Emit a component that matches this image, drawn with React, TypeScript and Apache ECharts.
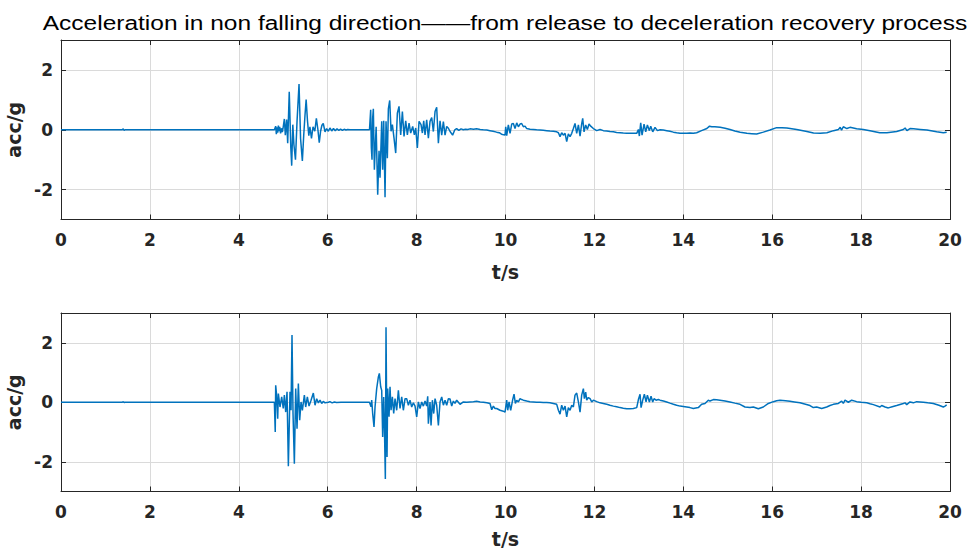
import React, { useEffect, useRef } from "react";
import * as echarts from "echarts";

type Pt = [number, number];

const titleText =
  "Acceleration in non falling direction——from release to deceleration recovery process";
const timeName = "t/s";
const accName = "acc/g";
const timeTicks = [0, 2, 4, 6, 8, 10, 12, 14, 16, 18, 20];
const accTicks = [-2, 0, 2];

// Upper channel: quiet hold, release impact, second impact, recovery
const upperQuiet: Pt[] = [[0, 0], [1.38, 0], [1.4, 0.03], [1.42, -0.02], [1.44, 0], [4.8, 0]];
const upperImpact1: Pt[] = [
  [4.815, 0], [4.83, 0.12], [4.845, -0.15], [4.86, 0.08], [4.875, -0.1], [4.89, 0.14], [4.905, -0.05],
  [4.92, 0.1], [4.94, -0.12], [4.96, 0.05], [4.98, -0.08], [5.0, 0.1], [5.025, 0.36], [5.047, -0.18],
  [5.077, 0.34], [5.1, -0.45], [5.135, 1.27], [5.17, -0.6], [5.19, -1.2], [5.215, 0.17], [5.24, -0.5],
  [5.275, -1.0], [5.31, 0.28], [5.355, 1.53], [5.39, -0.3], [5.43, -1.04], [5.46, -0.2], [5.49, 0.5],
  [5.515, 1.01], [5.545, 0.3], [5.575, -0.2], [5.6, 0.1], [5.635, -0.29], [5.67, 0.1], [5.71, -0.05],
  [5.745, 0.38], [5.78, 0.0], [5.81, -0.43], [5.84, -0.05], [5.87, 0.15], [5.9, 0.21], [5.94, -0.07],
  [5.975, 0.04], [6.015, -0.05], [6.05, 0.06], [6.09, -0.04], [6.13, 0.04], [6.17, -0.03], [6.21, 0.03],
  [6.25, -0.02], [6.29, 0.02], [6.33, -0.02], [6.37, 0.015], [6.41, -0.01], [6.45, 0.01], [6.5, 0], [6.94, 0],
];
const upperImpact2: Pt[] = [
  [6.952, 0], [6.967, 0.67], [6.982, -0.6], [6.997, -1.0], [7.012, 0.4], [7.027, 0.7], [7.05, -1.34],
  [7.072, -0.5], [7.09, 0.1], [7.125, -2.17], [7.155, -0.7], [7.177, -1.6], [7.215, 0.28], [7.237, -1.34],
  [7.26, 0.3], [7.29, -2.26], [7.312, 0.28], [7.342, -0.95], [7.365, 0.7], [7.395, 0.98], [7.425, -0.05],
  [7.455, 0.17], [7.492, -0.28], [7.53, -0.78], [7.567, 0.55], [7.605, 0.78], [7.642, -0.17], [7.68, 0.61],
  [7.717, -0.22], [7.755, 0.3], [7.792, -0.17], [7.83, 0.22], [7.867, -0.11], [7.912, 0.11], [7.95, -0.17],
  [7.98, 0.06], [8.017, -0.61], [8.055, 0.28], [8.1, 0.17], [8.13, -0.11], [8.16, 0.3], [8.19, -0.17],
  [8.227, 0.33], [8.265, -0.28], [8.302, 0.28], [8.34, 0.41], [8.377, -0.06], [8.415, 0.61], [8.452, 0.75],
  [8.49, -0.45], [8.527, 0.3], [8.565, -0.18], [8.602, 0.27], [8.64, -0.18], [8.677, 0.11], [8.715, 0.05],
  [8.75, -0.05], [8.81, -0.18], [8.86, 0.0], [8.9, 0.04], [8.95, -0.02], [9.0, 0.03],
];
const upperRecovery: Pt[] = [
  [9.05, 0.0], [9.1, 0.02], [9.15, 0.01], [9.2, 0.03], [9.28, 0.02], [9.35, 0.03], [9.43, 0.01], [9.5, 0.0],
  [9.58, -0.01], [9.65, -0.03], [9.72, -0.05], [9.8, -0.08], [9.86, -0.1], [9.91, -0.15], [9.99, -0.18],
  [10.005, 0.1], [10.027, -0.2], [10.064, 0.16], [10.102, -0.12], [10.14, 0.19], [10.177, 0.21], [10.214, 0.04],
  [10.252, 0.23], [10.29, 0.1], [10.327, 0.19], [10.364, 0.21], [10.402, 0.1], [10.44, 0.12], [10.477, 0.04],
  [10.552, 0.02], [10.627, 0.01], [10.7, 0.0], [10.777, -0.01], [10.85, -0.02], [10.927, -0.03], [11.0, -0.04],
  [11.077, -0.05], [11.152, -0.07], [11.19, -0.1], [11.227, -0.23], [11.264, -0.1], [11.302, -0.18],
  [11.34, -0.12], [11.377, -0.4], [11.414, -0.14], [11.452, -0.23], [11.49, -0.12], [11.527, 0.04],
  [11.564, 0.21], [11.602, -0.12], [11.64, 0.16], [11.677, -0.21], [11.714, 0.2], [11.737, 0.38],
  [11.767, -0.07], [11.804, 0.16], [11.842, 0.01], [11.879, 0.19], [11.917, 0.12], [11.977, 0.04],
  [12.052, -0.03], [12.127, 0.01], [12.202, -0.03], [12.277, -0.04], [12.35, -0.06], [12.427, -0.07],
  [12.5, -0.09], [12.577, -0.1], [12.65, -0.11], [12.727, -0.12], [12.8, -0.12], [12.877, -0.12],
  [12.952, -0.12], [12.99, 0.01], [13.012, -0.21], [13.042, 0.23], [13.072, -0.18], [13.117, 0.19],
  [13.154, -0.07], [13.192, 0.16], [13.237, -0.03], [13.267, 0.12], [13.312, -0.07], [13.364, 0.08],
  [13.417, -0.03], [13.477, 0.0], [13.55, -0.01], [13.627, -0.03], [13.7, -0.05], [13.777, -0.08],
  [13.85, -0.1], [13.927, -0.12], [14.0, -0.12], [14.077, -0.12], [14.15, -0.11], [14.227, -0.12],
  [14.3, -0.1], [14.41, -0.03], [14.53, 0.04], [14.59, 0.12], [14.64, 0.1], [14.71, 0.1], [14.83, 0.08],
  [14.94, 0.05], [15.05, 0.01], [15.16, -0.04], [15.28, -0.08], [15.43, -0.12], [15.54, -0.13],
  [15.65, -0.14], [15.8, -0.08], [15.95, -0.01], [16.1, 0.07], [16.22, 0.07], [16.33, 0.06], [16.55, 0.01],
  [16.78, -0.06], [16.93, -0.11], [17.08, -0.12], [17.23, -0.1], [17.38, -0.03], [17.49, 0.01], [17.53, 0.08],
  [17.56, -0.01], [17.6, 0.1], [17.68, 0.04], [17.75, 0.08], [17.9, 0.03], [18.05, 0.01], [18.2, -0.03],
  [18.42, -0.1], [18.58, -0.1], [18.8, -0.06], [18.95, 0.01], [18.99, 0.06], [19.03, -0.03], [19.1, 0.04],
  [19.18, 0.03], [19.33, 0.01], [19.48, -0.01], [19.7, -0.07], [19.85, -0.1], [19.925, -0.08],
];

// Lower channel
const lowerQuiet: Pt[] = [[0, 0], [1.38, 0], [1.4, 0.02], [1.42, -0.01], [1.44, 0], [4.8, 0]];
const lowerImpact1: Pt[] = [
  [4.815, 0], [4.82, -1.0], [4.83, 0.57], [4.85, 0.24], [4.875, -0.55], [4.89, 0.29], [4.927, -0.16],
  [4.965, 0.18], [5.0, -0.21], [5.025, 0.24], [5.055, -0.33], [5.085, 0.35], [5.115, -2.15], [5.152, 0.35],
  [5.175, -0.27], [5.197, 2.26], [5.22, -0.38], [5.25, -2.07], [5.28, 0.46], [5.31, -0.89], [5.34, 0.63],
  [5.37, -0.6], [5.4, 0.01], [5.43, -0.27], [5.475, 0.24], [5.505, -0.16], [5.542, 0.18], [5.58, -0.13],
  [5.625, 0.07], [5.677, 0.31], [5.715, -0.1], [5.752, 0.12], [5.79, -0.02], [5.827, 0.07], [5.865, -0.04],
  [5.9, 0.03], [5.94, -0.02], [6.015, 0.0], [6.05, 0.02], [6.1, -0.02], [6.15, 0.01], [6.2, -0.01], [6.3, 0],
  [6.94, 0],
];
const lowerImpact2: Pt[] = [
  [6.952, 0], [6.975, -0.15], [6.99, 0.07], [7.012, -0.38], [7.042, -0.83], [7.065, -0.16], [7.102, 0.46],
  [7.14, 0.85], [7.162, 0.97], [7.192, 0.52], [7.215, 0.4], [7.237, -1.17], [7.26, 0.18], [7.275, -0.72],
  [7.297, -2.58], [7.312, 2.52], [7.335, -1.84], [7.35, 0.46], [7.38, -0.49], [7.402, 0.52], [7.425, -0.27],
  [7.455, 0.18], [7.485, -0.38], [7.515, 0.12], [7.552, -0.27], [7.59, 0.4], [7.627, -0.21], [7.665, 0.18],
  [7.702, -0.27], [7.74, 0.12], [7.777, 0.12], [7.815, -0.1], [7.852, 0.07], [7.89, -0.16], [7.927, -0.02],
  [7.965, -0.13], [8.002, -0.49], [8.04, 0.01], [8.077, -0.21], [8.115, 0.01], [8.152, -0.13], [8.19, 0.04],
  [8.227, -0.13], [8.25, 0.2], [8.265, -0.72], [8.302, 0.01], [8.325, -0.78], [8.355, 0.07], [8.385, -0.38],
  [8.415, 0.12], [8.452, -0.1], [8.49, -0.78], [8.527, 0.01], [8.565, 0.18], [8.602, -0.1], [8.64, 0.07],
  [8.677, -0.1], [8.715, 0.12], [8.752, 0.11], [8.79, -0.13], [8.827, 0.04], [8.864, -0.04], [8.902, 0.07],
  [8.977, -0.07],
];
const lowerRecovery: Pt[] = [
  [9.052, 0.01], [9.127, 0.0], [9.2, 0.01], [9.277, 0.02], [9.352, 0.03], [9.43, 0.01], [9.502, 0.0],
  [9.58, -0.02], [9.652, -0.04], [9.69, -0.25], [9.727, -0.13], [9.764, -0.21], [9.802, -0.21],
  [9.877, -0.27], [9.95, -0.3], [9.99, -0.33], [10.027, 0.07], [10.05, -0.27], [10.08, 0.01], [10.117, -0.27],
  [10.162, 0.09], [10.192, 0.27], [10.222, -0.04], [10.252, 0.07], [10.29, 0.01], [10.327, 0.12],
  [10.364, 0.09], [10.402, 0.07], [10.477, 0.04], [10.55, 0.02], [10.627, 0.01], [10.7, 0.0], [10.777, 0.0],
  [10.85, -0.01], [10.927, -0.01], [11.0, -0.02], [11.077, -0.04], [11.152, -0.07], [11.19, -0.27],
  [11.227, -0.4], [11.264, -0.1], [11.302, -0.27], [11.34, -0.13], [11.377, -0.49], [11.414, -0.18],
  [11.452, -0.27], [11.49, -0.1], [11.527, -0.16], [11.564, 0.24], [11.602, 0.31], [11.64, 0.01],
  [11.677, -0.33], [11.714, 0.24], [11.752, 0.46], [11.774, 0.12], [11.804, 0.34], [11.827, 0.07],
  [11.864, 0.16], [11.902, 0.12], [11.94, 0.01], [11.977, 0.07], [12.052, 0.02], [12.127, -0.02],
  [12.2, -0.04], [12.277, -0.07], [12.35, -0.1], [12.427, -0.13], [12.5, -0.15], [12.577, -0.18],
  [12.65, -0.2], [12.727, -0.22], [12.8, -0.22], [12.877, -0.21], [12.952, -0.18], [12.99, 0.09],
  [13.027, 0.27], [13.05, -0.18], [13.087, 0.07], [13.124, 0.27], [13.162, 0.01], [13.192, 0.24],
  [13.237, 0.01], [13.274, 0.2], [13.312, 0.01], [13.342, 0.12], [13.387, 0.07], [13.439, 0.09],
  [13.477, 0.07], [13.552, 0.04], [13.627, 0.01], [13.7, -0.03], [13.777, -0.07], [13.85, -0.1],
  [13.93, -0.13], [14.0, -0.14], [14.076, -0.16], [14.15, -0.18], [14.226, -0.21], [14.338, -0.18],
  [14.413, -0.07], [14.488, -0.04], [14.563, 0.07], [14.6, 0.04], [14.676, 0.09], [14.75, 0.08],
  [14.826, 0.07], [14.94, 0.04], [15.05, 0.01], [15.16, -0.03], [15.276, -0.07], [15.388, -0.16],
  [15.5, -0.18], [15.576, -0.16], [15.688, -0.22], [15.8, -0.16], [15.913, -0.04], [16.026, 0.02],
  [16.1, 0.05], [16.176, 0.07], [16.3, 0.05], [16.4, 0.03], [16.5, 0.01], [16.626, -0.02], [16.75, -0.07],
  [16.85, -0.11], [16.926, -0.18], [17.0, -0.16], [17.113, -0.21], [17.226, -0.16], [17.3, -0.11],
  [17.376, -0.07], [17.488, -0.04], [17.563, 0.04], [17.6, -0.04], [17.638, 0.07], [17.713, 0.0],
  [17.788, 0.07], [17.9, 0.02], [18.0, 0.0], [18.126, -0.02], [18.2, -0.05], [18.276, -0.08], [18.426, -0.16],
  [18.463, -0.11], [18.54, -0.16], [18.613, -0.19], [18.7, -0.15], [18.8, -0.11], [18.95, -0.04],
  [18.988, -0.02], [19.026, -0.08], [19.1, 0.01], [19.176, -0.02], [19.25, 0.02], [19.4, 0.0], [19.5, -0.02],
  [19.625, -0.04], [19.75, -0.1], [19.85, -0.16], [19.888, -0.13], [19.925, -0.09],
];

const upperSignal: Pt[] = [...upperQuiet, ...upperImpact1, ...upperImpact2, ...upperRecovery];
const lowerSignal: Pt[] = [...lowerQuiet, ...lowerImpact1, ...lowerImpact2, ...lowerRecovery];

const TITLE_FONT = "'Liberation Sans', Arial, Helvetica, sans-serif";
const AXIS_FONT = "'DejaVu Sans', 'Liberation Sans', Arial, sans-serif";
const INK = "#262626";
const GRID_LINE = "#dadada";
const LINE_BLUE = "#0072BD";

// Two stacked axes boxes with fixed pixel placement
const grids = [
  { left: 61, top: 40, width: 889, height: 179.5, outerBoundsMode: "none" },
  { left: 61, top: 313, width: 889, height: 178.5, outerBoundsMode: "none" },
];
const timeNameGaps = [43, 38];

function buildOption(): echarts.EChartsOption {
  const xAxes: any[] = [];
  const yAxes: any[] = [];
  const series: any[] = [];
  const signals = [upperSignal, lowerSignal];

  grids.forEach((_, g) => {
    const tickStyle = { show: true, inside: true, length: 5, lineStyle: { color: INK, width: 1 } };
    const lineStyle = { show: true, onZero: false, lineStyle: { color: INK, width: 1 } };
    const labelStyle = { color: INK, fontSize: 17, fontWeight: "bold", fontFamily: AXIS_FONT };
    xAxes.push({
      gridIndex: g,
      type: "value",
      position: "bottom",
      min: timeTicks[0],
      max: timeTicks[timeTicks.length - 1],
      interval: 2,
      axisLine: lineStyle,
      axisTick: tickStyle,
      axisLabel: { ...labelStyle, margin: 12 },
      splitLine: { show: true, lineStyle: { color: GRID_LINE, width: 1 } },
      name: timeName,
      nameLocation: "middle",
      nameGap: timeNameGaps[g],
      nameTextStyle: { ...labelStyle, fontSize: 19 },
    });
    xAxes.push({
      gridIndex: g,
      type: "value",
      position: "top",
      min: timeTicks[0],
      max: timeTicks[timeTicks.length - 1],
      interval: 2,
      axisLine: lineStyle,
      axisTick: tickStyle,
      axisLabel: { show: false },
      splitLine: { show: false },
    });
    yAxes.push({
      gridIndex: g,
      type: "value",
      position: "left",
      min: -3,
      max: 3,
      axisLine: lineStyle,
      axisTick: { ...tickStyle, customValues: accTicks },
      axisLabel: { ...labelStyle, customValues: accTicks, margin: 8 },
      splitLine: { show: true, lineStyle: { color: GRID_LINE, width: 1 } },
      name: accName,
      nameLocation: "middle",
      nameGap: 29,
      nameRotate: 90,
      nameTextStyle: { ...labelStyle, fontSize: 19 },
    });
    yAxes.push({
      gridIndex: g,
      type: "value",
      position: "right",
      min: -3,
      max: 3,
      axisLine: lineStyle,
      axisTick: { ...tickStyle, customValues: accTicks },
      axisLabel: { show: false, customValues: accTicks },
      splitLine: { show: false },
    });
    series.push({
      type: "line",
      xAxisIndex: g * 2,
      yAxisIndex: g * 2,
      data: signals[g],
      showSymbol: false,
      symbol: "none",
      lineStyle: { color: LINE_BLUE, width: 1.5 },
      silent: true,
      z: 3,
    });
  });

  return {
    animation: false,
    backgroundColor: "#ffffff",
    textStyle: { fontFamily: AXIS_FONT },
    graphic: [
      {
        type: "text",
        x: 505,
        y: 23,
        scaleX: 1.225,
        style: {
          text: titleText,
          fill: "#000000",
          fontSize: 20,
          fontFamily: TITLE_FONT,
          align: "center",
          verticalAlign: "middle",
        },
      },
    ],
    grid: grids as any,
    xAxis: xAxes,
    yAxis: yAxes,
    series,
  };
}

export default function App() {
  const ref = useRef<HTMLDivElement>(null);

  useEffect(() => {
    if (!ref.current) return;
    const chart = echarts.init(ref.current, undefined, { renderer: "svg" });
    chart.setOption(buildOption());
    return () => chart.dispose();
  }, []);

  return (
    <div
      ref={ref}
      style={{ position: "fixed", left: 0, top: 0, width: 970, height: 551, background: "#fff" }}
    />
  );
}
